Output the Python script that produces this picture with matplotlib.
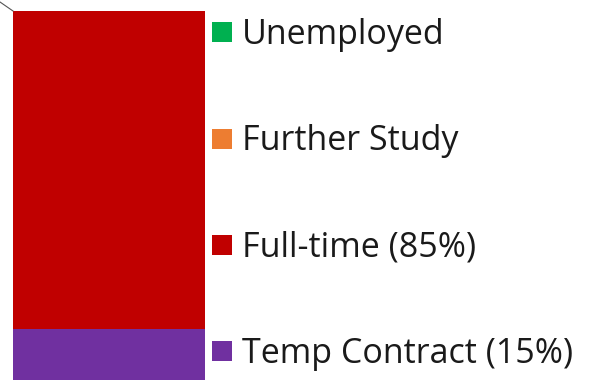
import matplotlib
matplotlib.use("Agg")
import matplotlib.pyplot as plt
from matplotlib.lines import Line2D

categories = ["Temp Contract (15%)", "Full-time (85%)", "Further Study", "Unemployed"]
values = [15, 85, 0, 0]
colors = ["#7030A0", "#C00000", "#ED7D31", "#00B050"]

W, H = 593, 380
fig = plt.figure(figsize=(W / 100, H / 100), dpi=100)
# axes spans bar region; bottom is slightly below figure (bar cut off)
left, right, top, bottom = 13, 205, 11, 385
ax = fig.add_axes([left / W, 1 - bottom / H, (right - left) / W, (bottom - top) / H])

base = 0
for cat, v, c in zip(categories, values, colors):
    ax.bar(0, v, width=1.0, bottom=base, color=c, edgecolor="none", label=cat)
    base += v
ax.set_xlim(-0.5, 0.5)
ax.set_ylim(0, 100)
ax.axis("off")

# thin border fragment at top-left
fig.add_artist(Line2D([0 / W, 13 / W], [1 - 2 / H, 1 - 11 / H], transform=fig.transFigure,
                      color="#555555", lw=0.8))

handles = [Line2D([], [], marker="s", linestyle="none", markersize=14.5, color=c,
                  markeredgewidth=0) for c in colors]
handles = handles[::-1]
labels = categories[::-1]
fig.legend(handles, labels, loc="center left", bbox_to_anchor=(209 / W, 1 - 194.5 / H),
           frameon=False, prop={"family": "Open Sans", "size": 24.5}, labelspacing=2.12,
           handlelength=0.75, handletextpad=0.22, borderpad=0, borderaxespad=0,
           labelcolor="#1a1a1a")

fig.savefig("out.png", dpi=100)
